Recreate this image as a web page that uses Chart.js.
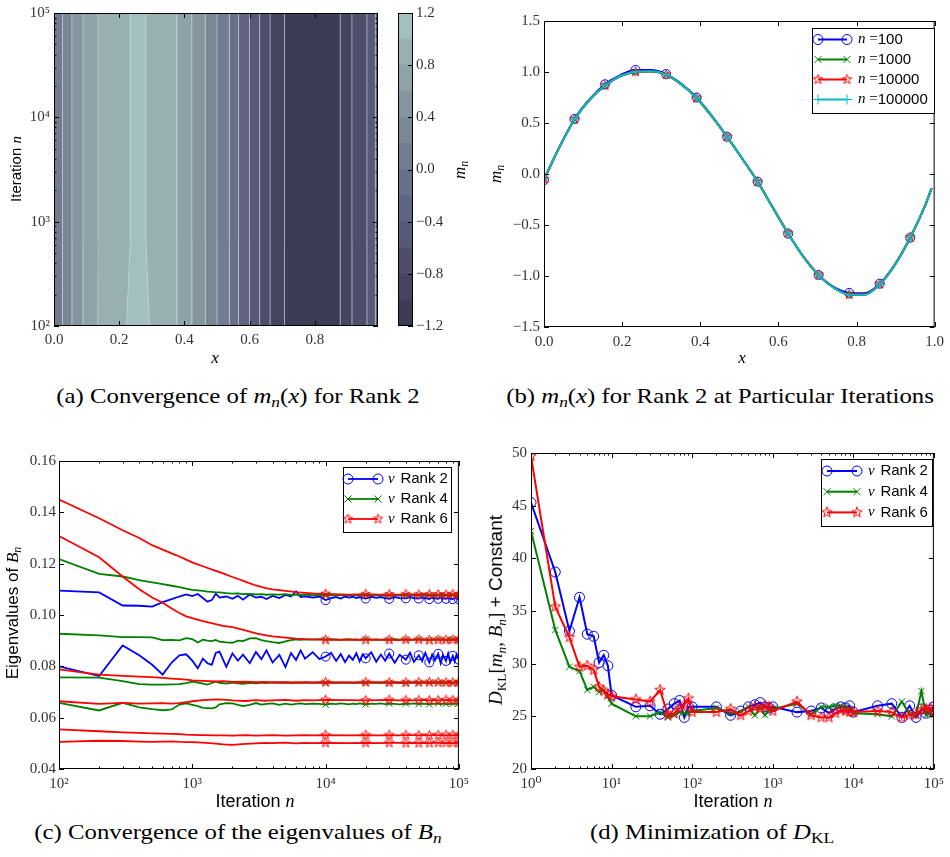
<!DOCTYPE html>
<html>
<head>
<meta charset="utf-8">
<script src="https://cdn.jsdelivr.net/npm/chart.js@4.4.1/dist/chart.umd.min.js"></script>
<style>
  body { margin: 0; background: #fff; width: 950px; height: 857px; position: relative; overflow: hidden;
         font-family: 'Liberation Sans', 'DejaVu Sans', sans-serif; color: #000; }
  canvas { position: absolute; }
  .t { position: absolute; white-space: nowrap; line-height: 1; transform: translate(-50%, -50%); }
  .rot { transform: translate(-50%, -50%) rotate(-90deg); }
  .m { font-family: 'Liberation Serif', 'DejaVu Serif', serif; font-style: italic; }
  .rm { font-family: 'Liberation Serif', 'DejaVu Serif', serif; font-style: normal; }
  .sub { font-size: 0.7em; vertical-align: -0.3em; }
  .cap { font-family: 'Liberation Serif', 'DejaVu Serif', serif; font-size: 21px;
         transform: translate(-50%, -50%) scaleX(1.18); }
</style>
</head>
<body>
<canvas id="mapChart" width="390" height="345" style="left:0;top:0"></canvas>
<canvas id="barChart" width="60" height="345" style="left:390px;top:0"></canvas>
<canvas id="curveChart" width="460" height="350" style="left:490px;top:0"></canvas>
<canvas id="eigChart" width="475" height="360" style="left:0;top:440px"></canvas>
<canvas id="klChart" width="475" height="360" style="left:475px;top:440px"></canvas>

<div class="t rot" style="left:16px;top:169px;font-size:15px">Iteration <span class="m">n</span></div>
<div class="t m" style="left:215px;top:357px;font-size:17px">x</div>
<div class="t rot m" style="left:461px;top:170px;font-size:17px">m<span class="sub">n</span></div>
<div class="t rot m" style="left:497px;top:174px;font-size:17px">m<span class="sub">n</span></div>
<div class="t m" style="left:742px;top:357px;font-size:17px">x</div>
<div class="t rot" style="left:14px;top:613px;font-size:17px">Eigenvalues of <span class="m">B<span class="sub">n</span></span></div>
<div class="t" style="left:255px;top:801px;font-size:18px">Iteration <span class="m">n</span></div>
<div class="t rot" style="left:497px;top:610px;font-size:19px"><span class="m">D<span class="sub rm">KL</span></span><span class="rm">[</span><span class="m">m<span class="sub">n</span></span><span class="rm">, </span><span class="m">B<span class="sub">n</span></span><span class="rm">]</span> + Constant</div>
<div class="t" style="left:733px;top:801px;font-size:18px">Iteration <span class="m">n</span></div>

<div class="t cap" style="left:238px;top:398px">(a) Convergence of <span class="m">m<span class="sub">n</span></span>(<span class="m">x</span>) for Rank 2</div>
<div class="t cap" style="left:720px;top:398px">(b) <span class="m">m<span class="sub">n</span></span>(<span class="m">x</span>) for Rank 2 at Particular Iterations</div>
<div class="t cap" style="left:238px;top:834px">(c) Convergence of the eigenvalues of <span class="m">B<span class="sub">n</span></span></div>
<div class="t cap" style="left:712px;top:834px">(d) Minimization of <span class="m">D<span class="sub rm">KL</span></span></div>

<script>
// ---- (a) m_n(x) over iterations: band edges in x, per band level ----
const mapIterRows = [100000, 650, 100];           // top, kink, bottom of the map
const mapEdgesTop = [0, 0.026, 0.055, 0.089, 0.135, 0.234, 0.282, 0.377, 0.423, 0.464, 0.500,
                     0.538, 0.566, 0.600, 0.631, 0.663, 0.707, 0.878, 0.914, 0.960, 0.986, 0.994];
const mapEdgesLow = [0, 0.026, 0.055, 0.089, 0.134, 0.222, 0.293, 0.377, 0.423, 0.464, 0.500,
                     0.538, 0.566, 0.600, 0.631, 0.663, 0.707, 0.878, 0.914, 0.960, 0.986, 0.994];
const mapBandLevels = [0.0, 0.2, 0.4, 0.6, 0.8, 1.0, 0.8, 0.6, 0.4, 0.2, 0.0, -0.2, -0.4, -0.6,
                       -0.8, -1.0, -1.2, -1.0, -0.8, -0.6, -0.4];
const mapLevels = [-1.2, -1.0, -0.8, -0.6, -0.4, -0.2, 0.0, 0.2, 0.4, 0.6, 0.8, 1.0, 1.2];
const mapColors = ['#3d3c55', '#45455f', '#4e4e6a', '#575a76', '#5f6580', '#686f88',
                   '#717c90', '#7a8896', '#84959e', '#8ea2a7', '#98b0b1', '#a3c0c0'];
const mapTicks = [-1.2, -0.8, -0.4, 0.0, 0.4, 0.8, 1.2];

// ---- (b) m_n(x) at selected iterations ----
const curveX = [0, 0.0391, 0.0781, 0.1172, 0.1563, 0.1953, 0.2344, 0.2734, 0.3125, 0.3516, 0.3906,
                0.4297, 0.4688, 0.5078, 0.5469, 0.5859, 0.625, 0.6641, 0.7031, 0.7422, 0.7813,
                0.8203, 0.8594, 0.8984, 0.9375, 0.9766, 0.9922];
const curveN100 = [-0.06, 0.26, 0.54, 0.735, 0.88, 0.97, 1.02, 1.02, 0.98, 0.885, 0.75, 0.57, 0.365,
                   0.15, -0.075, -0.33, -0.585, -0.81, -0.99, -1.11, -1.165, -1.17, -1.075, -0.885,
                   -0.625, -0.30, -0.14];
const curveN1000 = [-0.05, 0.26, 0.535, 0.728, 0.865, 0.958, 1.0, 1.005, 0.972, 0.877, 0.743, 0.563,
                    0.362, 0.148, -0.077, -0.332, -0.582, -0.812, -0.992, -1.117, -1.182, -1.183,
                    -1.083, -0.892, -0.622, -0.30, -0.14];
const curveN10000 = [-0.05, 0.26, 0.535, 0.73, 0.867, 0.96, 1.002, 1.007, 0.974, 0.879, 0.745, 0.565,
                     0.364, 0.15, -0.075, -0.33, -0.58, -0.81, -0.99, -1.115, -1.182, -1.182, -1.08,
                     -0.89, -0.62, -0.30, -0.14];
const curveN100000 = [-0.05, 0.26, 0.535, 0.73, 0.868, 0.961, 1.003, 1.007, 0.974, 0.879, 0.745,
                      0.565, 0.364, 0.149, -0.076, -0.331, -0.581, -0.811, -0.991, -1.116, -1.183,
                      -1.184, -1.082, -0.891, -0.621, -0.30, -0.14];

// ---- (c) eigenvalues of B_n ----
const eigItersFine = [100, 200, 300, 400, 500, 600, 700, 800, 900, 1000,
  1100, 1200, 1300, 1400, 1500, 1600, 1800, 2000, 2200, 2400,
  2700, 3000, 3300, 3600, 4000, 4500, 5000, 5500, 6000, 6500,
  7000, 8000, 9000, 10000, 11000, 12000, 13000, 14000, 15000, 16000,
  17000, 18000, 19000, 20000, 22000, 24000, 26000, 28000, 30000, 33000,
  36000, 40000, 43000, 46000, 50000, 53000, 56000, 60000, 63000, 66000,
  70000, 73000, 76000, 80000, 83000, 86000, 90000, 93000, 96000, 100000];
const eigItersCoarse = [100, 200, 300, 400, 500, 600, 700, 800, 900, 1000,
  1200, 1500, 1700, 2000, 2500, 3000, 3500, 4000, 5000, 6000,
  7000, 8000, 10000, 15000, 20000, 25000, 30000, 35000, 40000, 45000,
  50000, 55000, 60000, 65000, 70000, 75000, 80000, 85000, 90000, 95000, 100000];
const eigMarkIters = [10000, 20000, 30000, 40000, 50000, 60000, 70000, 80000, 90000, 100000];

const rank2Eig1 = [0.1095, 0.1088, 0.1037, 0.1036, 0.1033, 0.1050, 0.1062, 0.1072, 0.1080, 0.1074,
  0.1082, 0.1066, 0.1052, 0.1058, 0.1083, 0.1068, 0.1072, 0.1063, 0.1075, 0.1060,
  0.1080, 0.1068, 0.1071, 0.1062, 0.1074, 0.1066, 0.1078, 0.1072, 0.1092, 0.1070,
  0.1073, 0.1068, 0.1072, 0.1058, 0.1066, 0.1070, 0.1064, 0.1072, 0.1068, 0.1071,
  0.1066, 0.1070, 0.1067, 0.1064, 0.1071, 0.1067, 0.1070, 0.1066, 0.1063, 0.1070,
  0.1066, 0.1065, 0.1070, 0.1066, 0.1064, 0.1069, 0.1066, 0.1062, 0.1068, 0.1065,
  0.1063, 0.1068, 0.1065, 0.1063, 0.1067, 0.1064, 0.1062, 0.1066, 0.1064, 0.1061];
const rank2Eig2 = [0.0800, 0.0762, 0.0881, 0.0843, 0.0806, 0.0768, 0.0815, 0.0843, 0.0847, 0.0822,
  0.0792, 0.0830, 0.0812, 0.0806, 0.0852, 0.0857, 0.0798, 0.0850, 0.0822, 0.0845,
  0.0812, 0.0856, 0.0828, 0.0862, 0.0815, 0.0845, 0.0797, 0.0852, 0.0825, 0.0862,
  0.0830, 0.0855, 0.0828, 0.0838, 0.0853, 0.0821, 0.0848, 0.0816, 0.0842, 0.0825,
  0.0851, 0.0819, 0.0847, 0.0831, 0.0855, 0.0818, 0.0846, 0.0822, 0.0850, 0.0814,
  0.0845, 0.0826, 0.0853, 0.0817, 0.0843, 0.0820, 0.0852, 0.0815, 0.0846, 0.0823,
  0.0849, 0.0812, 0.0844, 0.0821, 0.0850, 0.0816, 0.0841, 0.0819, 0.0847, 0.0826];
const rank4Eig1 = [0.1218, 0.1160, 0.1150, 0.1136, 0.1127, 0.1120, 0.1114, 0.1109, 0.1103, 0.1098,
  0.1096, 0.1094, 0.1091, 0.1090, 0.1088, 0.1088, 0.1085, 0.1083, 0.1084, 0.1081,
  0.1082, 0.1080, 0.1081, 0.1079, 0.1080, 0.1079, 0.1081, 0.1078, 0.1079, 0.1078,
  0.1079, 0.1077, 0.1078, 0.1077, 0.1078, 0.1076, 0.1078, 0.1077, 0.1076, 0.1078,
  0.1077, 0.1076, 0.1078, 0.1077, 0.1076, 0.1078, 0.1077, 0.1076, 0.1077, 0.1078,
  0.1076, 0.1077, 0.1078, 0.1076, 0.1077, 0.1078, 0.1076, 0.1077, 0.1078, 0.1076,
  0.1077, 0.1078, 0.1076, 0.1077, 0.1078, 0.1076, 0.1077, 0.1078, 0.1076, 0.1077];
const rank4Eig2 = [0.0927, 0.0921, 0.0914, 0.0914, 0.0913, 0.0902, 0.0903, 0.0901, 0.0910, 0.0906,
  0.0893, 0.0904, 0.0900, 0.0898, 0.0903, 0.0896, 0.0893, 0.0892, 0.0900, 0.0898,
  0.0909, 0.0910, 0.0902, 0.0898, 0.0894, 0.0891, 0.0897, 0.0902, 0.0905, 0.0903,
  0.0905, 0.0904, 0.0906, 0.0904, 0.0906, 0.0905, 0.0903, 0.0905, 0.0906, 0.0904,
  0.0905, 0.0903, 0.0905, 0.0906, 0.0904, 0.0905, 0.0903, 0.0905, 0.0904, 0.0906,
  0.0904, 0.0905, 0.0903, 0.0905, 0.0906, 0.0904, 0.0905, 0.0903, 0.0905, 0.0904,
  0.0906, 0.0904, 0.0905, 0.0903, 0.0905, 0.0904, 0.0906, 0.0904, 0.0905, 0.0904];
const rank4Eig3 = [0.0757, 0.0756, 0.0742, 0.0731, 0.0729, 0.0729, 0.0730, 0.0731, 0.0735, 0.0740,
  0.0737, 0.0733, 0.0729, 0.0735, 0.0740, 0.0736, 0.0733, 0.0737, 0.0734, 0.0732,
  0.0736, 0.0734, 0.0737, 0.0735, 0.0738, 0.0736, 0.0737, 0.0735, 0.0737, 0.0736,
  0.0737, 0.0736, 0.0737, 0.0736, 0.0737, 0.0735, 0.0737, 0.0736, 0.0737, 0.0735,
  0.0736, 0.0737, 0.0735, 0.0736, 0.0737, 0.0736, 0.0735, 0.0737, 0.0736, 0.0737,
  0.0735, 0.0736, 0.0737, 0.0736, 0.0735, 0.0737, 0.0736, 0.0737, 0.0735, 0.0736,
  0.0737, 0.0736, 0.0735, 0.0737, 0.0736, 0.0737, 0.0735, 0.0736, 0.0737, 0.0736];
const rank4Eig4 = [0.0658, 0.0628, 0.0658, 0.0640, 0.0633, 0.0629, 0.0632, 0.0651, 0.0656, 0.0650,
  0.0645, 0.0638, 0.0637, 0.0636, 0.0640, 0.0652, 0.0657, 0.0656, 0.0650, 0.0645,
  0.0650, 0.0657, 0.0651, 0.0654, 0.0656, 0.0650, 0.0655, 0.0651, 0.0654, 0.0656,
  0.0653, 0.0655, 0.0654, 0.0651, 0.0655, 0.0653, 0.0656, 0.0654, 0.0652, 0.0655,
  0.0653, 0.0656, 0.0654, 0.0652, 0.0655, 0.0654, 0.0656, 0.0653, 0.0655, 0.0654,
  0.0652, 0.0655, 0.0654, 0.0656, 0.0653, 0.0655, 0.0654, 0.0652, 0.0655, 0.0654,
  0.0656, 0.0653, 0.0655, 0.0654, 0.0652, 0.0655, 0.0654, 0.0656, 0.0653, 0.0655];
const rank6Eig1 = [0.1450, 0.1377, 0.1330, 0.1300, 0.1272, 0.1255, 0.1240, 0.1228, 0.1216, 0.1205,
  0.1190, 0.1172, 0.1162, 0.1148, 0.1130, 0.1115, 0.1106, 0.1100, 0.1094, 0.1089,
  0.1086, 0.1084, 0.1082, 0.1079, 0.1081, 0.1079, 0.1080, 0.1079, 0.1081, 0.1080,
  0.1079, 0.1081, 0.1080, 0.1079, 0.1080, 0.1081, 0.1079, 0.1080, 0.1081, 0.1079, 0.1080];
const rank6Eig2 = [0.1308, 0.1225, 0.1150, 0.1100, 0.1068, 0.1048, 0.1025, 0.1008, 0.0995, 0.0988,
  0.0976, 0.0964, 0.0958, 0.0953, 0.0940, 0.0928, 0.0922, 0.0917, 0.0912, 0.0908,
  0.0906, 0.0905, 0.0903, 0.0904, 0.0903, 0.0904, 0.0903, 0.0902, 0.0904, 0.0903,
  0.0904, 0.0903, 0.0902, 0.0904, 0.0903, 0.0904, 0.0903, 0.0902, 0.0904, 0.0903, 0.0904];
const rank6Eig3 = [0.0788, 0.0768, 0.0763, 0.0760, 0.0758, 0.0755, 0.0752, 0.0750, 0.0748, 0.0745,
  0.0743, 0.0741, 0.0742, 0.0739, 0.0740, 0.0738, 0.0739, 0.0737, 0.0738, 0.0737,
  0.0738, 0.0737, 0.0738, 0.0737, 0.0738, 0.0738, 0.0737, 0.0738, 0.0737, 0.0738,
  0.0738, 0.0737, 0.0738, 0.0737, 0.0738, 0.0738, 0.0737, 0.0738, 0.0737, 0.0738, 0.0738];
const rank6Eig4 = [0.0664, 0.0654, 0.0658, 0.0655, 0.0656, 0.0657, 0.0655, 0.0657, 0.0660, 0.0664,
  0.0668, 0.0671, 0.0670, 0.0667, 0.0665, 0.0668, 0.0666, 0.0667, 0.0669, 0.0666,
  0.0668, 0.0667, 0.0669, 0.0668, 0.0667, 0.0668, 0.0669, 0.0667, 0.0668, 0.0667,
  0.0668, 0.0669, 0.0667, 0.0668, 0.0667, 0.0668, 0.0669, 0.0667, 0.0668, 0.0667, 0.0668];
const rank6Eig5 = [0.0554, 0.0547, 0.0543, 0.0541, 0.0539, 0.0538, 0.0537, 0.0536, 0.0534, 0.0533,
  0.0532, 0.0531, 0.0531, 0.0530, 0.0532, 0.0530, 0.0531, 0.0532, 0.0530, 0.0531,
  0.0532, 0.0531, 0.0532, 0.0531, 0.0532, 0.0531, 0.0532, 0.0531, 0.0532, 0.0532,
  0.0531, 0.0532, 0.0531, 0.0532, 0.0532, 0.0531, 0.0532, 0.0531, 0.0532, 0.0531, 0.0532];
const rank6Eig6 = [0.0506, 0.0510, 0.0509, 0.0507, 0.0506, 0.0507, 0.0508, 0.0506, 0.0505, 0.0505,
  0.0503, 0.0499, 0.0496, 0.0494, 0.0498, 0.0500, 0.0502, 0.0501, 0.0503, 0.0500,
  0.0502, 0.0501, 0.0502, 0.0501, 0.0502, 0.0501, 0.0502, 0.0502, 0.0501, 0.0502,
  0.0501, 0.0502, 0.0501, 0.0502, 0.0502, 0.0501, 0.0502, 0.0501, 0.0502, 0.0501, 0.0502];

// ---- (d) D_KL + constant ----
const klIters = [1, 2, 3, 4, 5, 6, 7, 8, 9, 10, 20, 30, 40, 50, 60, 70, 80, 90, 100,
  200, 300, 400, 500, 600, 700, 800, 900, 1000, 2000, 3000, 4000, 5000, 6000, 7000, 8000, 9000,
  10000, 20000, 30000, 40000, 50000, 60000, 70000, 80000, 90000, 100000];
const klRank2 = [45.3, 38.7, 33.1, 36.3, 32.8, 32.6, 30.1, 30.8, 29.8, 27.0,
  25.9, 26.0, 25.2, 25.7, 26.2, 26.5, 24.9, 25.9, 25.9,
  25.9, 25.1, 25.5, 25.9, 26.1, 26.3, 25.9, 25.8, 25.9,
  25.4, 25.5, 25.8, 25.3, 25.7, 25.9, 25.8, 26.0, 25.4,
  26.0, 26.2, 24.9, 26.0, 24.9, 25.7, 25.3, 25.6, 25.9];
const klRank4 = [42.6, 33.2, 29.7, 29.3, 27.5, 27.8, 27.3, 27.5, 26.9, 26.2,
  25.0, 25.0, 25.4, 24.9, 25.1, 25.4, 25.3, 25.3, 25.5,
  25.8, 25.3, 25.4, 25.9, 25.1, 25.8, 25.1, 25.6, 25.7,
  26.2, 25.2, 25.9, 25.9, 26.0, 26.0, 25.9, 25.7, 25.3,
  25.2, 25.0, 26.4, 25.2, 25.1, 27.4, 25.1, 25.3, 25.1];
const klRank6 = [49.7, 35.4, 32.5, 29.7, 29.8, 29.4, 27.8, 27.4, 27.1, 26.9,
  26.6, 26.4, 27.5, 25.1, 25.3, 25.8, 26.1, 26.7, 25.4,
  25.4, 25.7, 25.1, 25.5, 25.9, 25.7, 26.0, 25.9, 25.5,
  26.4, 25.1, 24.9, 24.9, 25.3, 25.6, 25.5, 25.4, 25.4,
  25.5, 25.4, 24.9, 25.1, 25.2, 25.6, 25.7, 25.8, 25.4];

const SERIF = "'Liberation Serif', 'DejaVu Serif', serif";
const SANS = "'Liberation Sans', 'DejaVu Sans', sans-serif";
const BLUE = '#0000ff', GREEN = '#008000', RED = '#ff0000', CYAN = '#00bfbf';
const SUP = {0: '\u2070', 1: '\u00b9', 2: '\u00b2', 3: '\u00b3', 4: '\u2074', 5: '\u2075'};

// open five-pointed star, used as a point style
function starMarker(color, r) {
  const c = document.createElement('canvas');
  const s = Math.ceil(2 * r + 3);
  c.width = c.height = s;
  const g = c.getContext('2d');
  g.translate(s / 2, s / 2);
  g.beginPath();
  for (let i = 0; i < 10; i++) {
    const rad = i % 2 ? r * 0.42 : r;
    const a = -Math.PI / 2 + i * Math.PI / 5;
    g.lineTo(rad * Math.cos(a), rad * Math.sin(a));
  }
  g.closePath();
  g.strokeStyle = color;
  g.lineWidth = 1;
  g.stroke();
  return c;
}

function logTicks(min, max) {
  const out = [];
  for (let e = Math.floor(Math.log10(min)); e <= Math.ceil(Math.log10(max)); e++) {
    for (let d = 1; d < 10; d++) {
      const v = d * Math.pow(10, e);
      if (v >= min * 0.999 && v <= max * 1.001) out.push({ value: v, major: d === 1 });
    }
  }
  return out;
}

const tickFont = { family: SERIF, size: 15 };
const tickColor = '#333';
const noGrid = { display: false, drawTicks: false };

function linAxis(min, max, step, digits, fit, pad) {
  return {
    type: 'linear', min, max,
    ticks: {
      stepSize: step, includeBounds: false, autoSkip: false, maxRotation: 0,
      color: tickColor, font: tickFont, padding: pad,
      callback: v => v.toFixed(digits).replace('-', '\u2212')
    },
    grid: noGrid, border: { display: false },
    afterFit: fit
  };
}

function logAxis(min, max, fit, pad) {
  return {
    type: 'logarithmic', min, max,
    afterBuildTicks: s => { s.ticks = logTicks(min, max); },
    ticks: {
      autoSkip: false, maxRotation: 0, color: tickColor, font: tickFont, padding: pad,
      callback: v => {
        const e = Math.round(Math.log10(v));
        return Math.abs(v - Math.pow(10, e)) < 1e-6 * v ? '10' + SUP[e] : '';
      }
    },
    grid: noGrid, border: { display: false },
    afterFit: fit
  };
}

const fitW = w => s => { s.width = w; };
const fitH = h => s => { s.height = h; };

// frame and inward ticks on every side of the plot area
const mplAxes = {
  id: 'mplAxes',
  afterDatasetsDraw(chart, args, o) {
    const { ctx, chartArea: a } = chart;
    const sides = o.sides || 'lrtb';
    ctx.save();
    ctx.strokeStyle = '#000';
    ctx.lineWidth = 1;
    ctx.beginPath();
    const xs = chart.scales.x, ys = chart.scales.y;
    if (xs && xs.options.display !== false) {
      for (const t of xs.ticks) {
        const p = Math.round(xs.getPixelForValue(t.value)) + 0.5;
        const len = xs.type === 'logarithmic' && !t.major ? 2.5 : 5;
        if (sides.includes('b')) { ctx.moveTo(p, a.bottom); ctx.lineTo(p, a.bottom - len); }
        if (sides.includes('t')) { ctx.moveTo(p, a.top); ctx.lineTo(p, a.top + len); }
      }
    }
    if (ys) {
      for (const t of ys.ticks) {
        const p = Math.round(ys.getPixelForValue(t.value)) + 0.5;
        const len = ys.type === 'logarithmic' && !t.major ? 2.5 : 5;
        if (sides.includes('l')) { ctx.moveTo(a.left, p); ctx.lineTo(a.left + len, p); }
        if (sides.includes('r')) { ctx.moveTo(a.right, p); ctx.lineTo(a.right - len, p); }
      }
    }
    ctx.stroke();
    ctx.strokeRect(a.left + 0.5, a.top + 0.5, a.width - 1, a.height - 1);
    ctx.restore();
  }
};

// boxed legend with a two-marker line sample per row
const mplLegend = {
  id: 'mplLegend',
  afterDraw(chart, args, o) {
    if (!o.rows) return;
    const { ctx } = chart;
    ctx.save();
    ctx.fillStyle = '#fff';
    ctx.fillRect(o.left, o.top, o.width, o.height);
    ctx.strokeStyle = '#000';
    ctx.lineWidth = 1;
    ctx.strokeRect(o.left + 0.5, o.top + 0.5, o.width, o.height);
    o.rows.forEach((di, r) => {
      const ds = chart.data.datasets[di];
      const y = o.top + o.firstRow + r * o.rowGap;
      const x0 = o.left + o.sampleX, x1 = x0 + o.sampleLen;
      ctx.strokeStyle = ds.borderColor;
      ctx.lineWidth = ds.borderWidth;
      ctx.beginPath();
      ctx.moveTo(x0, y);
      ctx.lineTo(x1, y);
      ctx.stroke();
      ctx.lineWidth = 1;
      ctx.fillStyle = 'rgba(0,0,0,0)';
      for (const x of [x0, x1]) {
        Chart.helpers.drawPoint(ctx, { pointStyle: ds.pointStyle, radius: o.markR, borderWidth: 1, rotation: 0 }, x, y);
      }
      // label: math symbol in italic serif, the rest in sans
      const m = ds.label.match(/^(\S+)(\s*=?)(.*)$/);
      let x = o.left + o.textX;
      ctx.fillStyle = '#000';
      ctx.textBaseline = 'middle';
      ctx.font = 'italic ' + o.size + 'px ' + SERIF;
      ctx.fillText(m[1], x, y);
      x += ctx.measureText(m[1]).width;
      ctx.font = o.size + 'px ' + SERIF;
      ctx.fillText(m[2], x, y);
      x += ctx.measureText(m[2]).width + (m[2].trim() ? 0 : 2);
      ctx.font = o.size + 'px ' + SANS;
      ctx.fillText(m[3].trim(), x, y);
    });
    ctx.restore();
  }
};

// later datasets are painted over earlier ones
const stackOrder = sets => sets.map((s, i) => Object.assign(s, { order: sets.length - i }));

Chart.defaults.animation = false;
Chart.defaults.events = [];
Chart.defaults.plugins.legend.display = false;
Chart.defaults.plugins.tooltip.enabled = false;

// ---- (a) filled bands ----
new Chart(document.getElementById('mapChart'), {
  type: 'line',
  data: {
    datasets: mapBandLevels.map((lev, i) => ({
      data: [
        { x: mapEdgesTop[i], y: mapIterRows[0] }, { x: mapEdgesTop[i + 1], y: mapIterRows[0] },
        { x: mapEdgesTop[i + 1], y: mapIterRows[1] }, { x: mapEdgesLow[i + 1], y: mapIterRows[2] },
        { x: mapEdgesLow[i], y: mapIterRows[2] }, { x: mapEdgesTop[i], y: mapIterRows[1] }
      ],
      fill: 'shape',
      backgroundColor: mapColors[mapLevels.indexOf(lev)],
      borderColor: 'rgba(225,232,232,0.28)',
      borderWidth: 0.7,
      pointRadius: 0,
      tension: 0
    }))
  },
  options: {
    responsive: false,
    layout: { padding: { top: 13, right: 12, left: 0, bottom: 0 } },
    scales: {
      x: linAxis(0, 0.994, 0.2, 1, fitH(19), 5),
      y: logAxis(100, 100000, fitW(54), 4)
    },
    plugins: { mplAxes: {} }
  },
  plugins: [mplAxes]
});

// ---- (a) colour bar ----
new Chart(document.getElementById('barChart'), {
  type: 'bar',
  data: {
    labels: [''],
    datasets: mapColors.map((c, i) => ({
      data: [[mapLevels[i], mapLevels[i + 1]]],
      backgroundColor: c,
      borderWidth: 0,
      grouped: false,
      barPercentage: 1,
      categoryPercentage: 1
    }))
  },
  options: {
    responsive: false,
    layout: { padding: { top: 13, right: 0, left: 8, bottom: 19 } },
    scales: {
      x: { display: false },
      y: {
        position: 'right', min: -1.2, max: 1.2,
        afterBuildTicks: s => { s.ticks = mapTicks.map(v => ({ value: v })); },
        ticks: {
          color: tickColor, font: tickFont, padding: 3, autoSkip: false,
          callback: v => v.toFixed(1).replace('-', '\u2212')
        },
        grid: noGrid, border: { display: false },
        afterFit: fitW(37)
      }
    },
    plugins: { mplAxes: { sides: 'r' } }
  },
  plugins: [mplAxes]
});

// ---- (b) curves ----
const curveMarker = r => ctx => (ctx.dataIndex % 2 === 0 && ctx.dataIndex <= 24 ? r : 0);
const curveSet = (label, ys, color, style, r) => ({
  label, data: curveX.map((x, i) => ({ x, y: ys[i] })),
  borderColor: color, borderWidth: 2, pointStyle: style, pointRadius: curveMarker(r),
  pointBorderColor: color, pointBackgroundColor: 'rgba(0,0,0,0)', pointBorderWidth: 1,
  cubicInterpolationMode: 'monotone', fill: false
});
const starB = starMarker(RED, 5);
new Chart(document.getElementById('curveChart'), {
  type: 'line',
  data: {
    datasets: stackOrder([
      curveSet('n =100', curveN100, BLUE, 'circle', 4.5),
      curveSet('n =1000', curveN1000, GREEN, 'crossRot', 4.5),
      curveSet('n =10000', curveN10000, RED, starB, 5),
      curveSet('n =100000', curveN100000, CYAN, 'cross', 5)
    ])
  },
  options: {
    responsive: false,
    layout: { padding: { top: 21, right: 10, left: 0, bottom: 0 } },
    scales: {
      x: linAxis(0, 1, 0.2, 1, fitH(23), 6),
      y: linAxis(-1.5, 1.5, 0.5, 1, fitW(54), 4)
    },
    plugins: {
      mplAxes: {},
      mplLegend: { rows: [0, 1, 2, 3], left: 322, top: 28, width: 122, height: 85,
                   firstRow: 11.5, rowGap: 20, sampleX: 6, sampleLen: 29, textX: 46, markR: 5, size: 15 }
    }
  },
  plugins: [mplAxes, mplLegend]
});

// ---- (c) eigenvalues ----
const starC = starMarker(RED, 5);
const eigSet = (label, iters, ys, color, style) => ({
  label, data: iters.map((x, i) => ({ x, y: ys[i] })),
  borderColor: color, borderWidth: 1.8, pointStyle: style,
  pointRadius: ctx => (eigMarkIters.includes(ctx.raw.x) ? 4.5 : 0),
  pointBorderColor: color, pointBackgroundColor: 'rgba(0,0,0,0)', pointBorderWidth: 1,
  tension: 0, fill: false
});
new Chart(document.getElementById('eigChart'), {
  type: 'line',
  data: {
    datasets: stackOrder([
      eigSet('\u03bd Rank 2', eigItersFine, rank2Eig1, BLUE, 'circle'),
      eigSet('', eigItersFine, rank2Eig2, BLUE, 'circle'),
      eigSet('\u03bd Rank 4', eigItersFine, rank4Eig1, GREEN, 'crossRot'),
      eigSet('', eigItersFine, rank4Eig2, GREEN, 'crossRot'),
      eigSet('', eigItersFine, rank4Eig3, GREEN, 'crossRot'),
      eigSet('', eigItersFine, rank4Eig4, GREEN, 'crossRot'),
      eigSet('\u03bd Rank 6', eigItersCoarse, rank6Eig1, RED, starC),
      eigSet('', eigItersCoarse, rank6Eig2, RED, starC),
      eigSet('', eigItersCoarse, rank6Eig3, RED, starC),
      eigSet('', eigItersCoarse, rank6Eig4, RED, starC),
      eigSet('', eigItersCoarse, rank6Eig5, RED, starC),
      eigSet('', eigItersCoarse, rank6Eig6, RED, starC)
    ])
  },
  options: {
    responsive: false,
    layout: { padding: { top: 21, right: 16, left: 0, bottom: 0 } },
    scales: {
      x: logAxis(100, 100000, fitH(31), 6),
      y: linAxis(0.04, 0.16, 0.02, 2, fitW(59), 3)
    },
    plugins: {
      mplAxes: {},
      mplLegend: { rows: [0, 2, 6], left: 343, top: 27, width: 108, height: 65,
                   firstRow: 12, rowGap: 20, sampleX: 5, sampleLen: 30, textX: 45, markR: 5, size: 15 }
    }
  },
  plugins: [mplAxes, mplLegend]
});

// ---- (d) D_KL ----
const starD = starMarker(RED, 5.5);
const klSet = (label, ys, color, style, r) => ({
  label, data: klIters.map((x, i) => ({ x, y: ys[i] })),
  borderColor: color, borderWidth: 2, pointStyle: style, pointRadius: r,
  pointBorderColor: color, pointBackgroundColor: 'rgba(0,0,0,0)', pointBorderWidth: 1,
  tension: 0, fill: false
});
new Chart(document.getElementById('klChart'), {
  type: 'line',
  data: {
    datasets: stackOrder([
      klSet('\u03bd Rank 2', klRank2, BLUE, 'circle', 5),
      klSet('\u03bd Rank 4', klRank4, GREEN, 'crossRot', 4.5),
      klSet('\u03bd Rank 6', klRank6, RED, starD, 5.5)
    ])
  },
  options: {
    responsive: false,
    layout: { padding: { top: 12, right: 11, left: 0, bottom: 0 } },
    scales: {
      x: logAxis(1, 100000, fitH(31), 6),
      y: linAxis(20, 50, 5, 0, fitW(56), 4)
    },
    plugins: {
      mplAxes: {},
      mplLegend: { rows: [0, 1, 2], left: 346, top: 19, width: 111, height: 67,
                   firstRow: 12, rowGap: 20.7, sampleX: 6, sampleLen: 30, textX: 47, markR: 5, size: 15 }
    }
  },
  plugins: [mplAxes, mplLegend]
});
</script>
</body>
</html>
